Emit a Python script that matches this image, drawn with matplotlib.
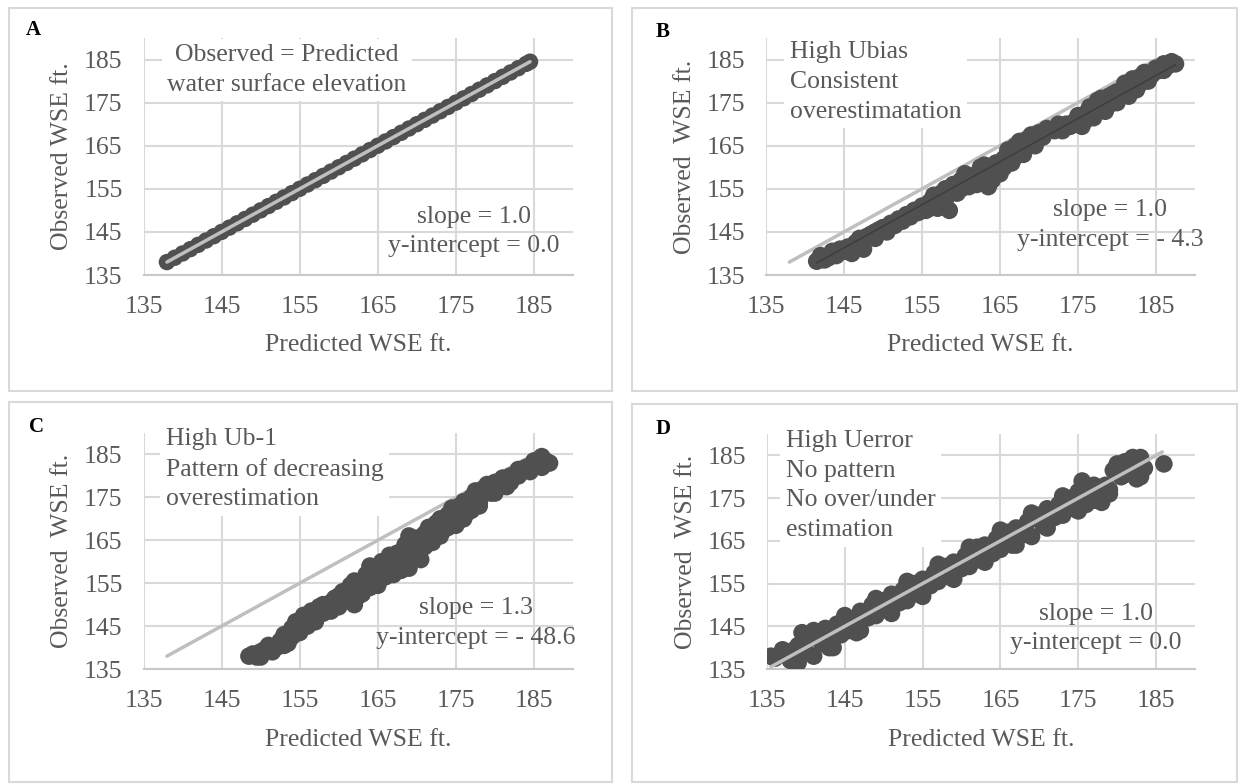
import matplotlib
matplotlib.use("Agg")
import matplotlib.pyplot as plt
from matplotlib.patches import Rectangle

plt.rcParams['font.family'] = ['Liberation Serif', 'DejaVu Serif']

W, H = 1241, 784

# Panel A: observed = predicted
pred_a = [138, 139, 140, 141, 142, 143, 144, 145, 146, 147, 148, 149, 150, 151, 152, 153,
          154, 155, 156, 157, 158, 159, 160, 161, 162, 163, 164, 165, 166, 167, 168, 169,
          170, 171, 172, 173, 174, 175, 176, 177, 178, 179, 180, 181, 182, 183, 184, 184.5]
obs_a = [138, 139, 140, 141, 142, 143, 144, 145, 146, 147, 148, 149, 150, 151, 152, 153,
         154, 155, 156, 157, 158, 159, 160, 161, 162, 163, 164, 165, 166, 167, 168, 169,
         170, 171, 172, 173, 174, 175, 176, 177, 178, 179, 180, 181, 182, 183, 184, 184.5]

# Panel B: high Ubias
pred_b = [141.5, 142.5, 143, 143.5, 144, 145, 145.5, 146, 146.5, 147, 147.5, 148, 148.5, 149,
          149.5, 150, 150.5, 151, 152, 152.5, 153, 154, 154.5, 155, 155.5, 156, 156.5, 157,
          157.5, 158, 158.5, 159, 159.5, 160, 160.5, 161, 161.5, 162, 162.5, 163, 163.5, 164,
          164.5, 165, 165.5, 166, 166.5, 167, 167.5, 168, 168.5, 169, 169.5, 170, 171, 172,
          173, 174, 174.5, 175, 175.5, 176, 176.5, 177, 177.5, 178, 178.5, 179, 179.5, 180,
          180.5, 181, 181.5, 182, 182.5, 183, 183.5, 184, 185, 185.5, 186, 186.5, 187, 187.5,
          142, 144.5, 147, 149, 151.5, 153.5, 156, 158, 160, 161, 163, 164, 165.5, 167,
          168, 170.5, 172.5, 173.5, 175, 176, 177, 179, 180, 181, 182, 183, 184.5, 186]
obs_b = [138.2, 138.5, 139, 140.5, 139.5, 140.5, 141.5, 140, 142.5, 143.5, 141, 144, 144.5, 143.5,
         145.5, 146, 145, 147, 148, 147.5, 149, 150, 149.5, 151, 150, 152, 153.5, 150.5,
         154, 155, 150, 156, 154, 157, 158.5, 157.5, 158, 156, 160, 160.5, 155.5, 159,
         161, 158.5, 162, 164, 161, 165, 166, 163, 166.5, 167.5, 165, 168, 169, 168.5,
         168.5, 169.5, 170.5, 172, 169.5, 172.5, 174, 171.5, 175.5, 176, 173, 176.5, 177, 175,
         177.5, 179.5, 176.5, 180.5, 178, 181, 182, 180, 183, 182.5, 184, 183.5, 184.5, 184,
         139.5, 141, 142, 145, 146.5, 148.5, 150.5, 152.5, 155, 155.5, 158, 157, 160, 162.5,
         165, 167, 170, 170, 171, 171, 173, 174.5, 177.5, 177.5, 179, 179.5, 181.5, 182.5]
trend_b_x = [141.5, 187.5]
trend_b_y = [137.8, 183.8]

# Panel C: high Ub-1
pred_c = [148.5, 149, 149.5, 150, 150.5, 151, 152, 152.5, 153, 153.5, 154, 154.5, 155, 155.5,
          156, 156.5, 157, 157.5, 158, 159, 159.5, 160, 160.5, 161, 161.5, 162, 162, 162.5,
          163, 163.5, 164, 164.5, 165, 165.5, 166, 166.5, 167, 167.5, 168, 168.5, 169, 169.5,
          170, 170.5, 171, 171.5, 172, 172.5, 173, 173.5, 174, 174.5, 175, 175.5, 176, 176.5,
          177, 177.5, 178, 178.5, 179, 179.5, 180, 181, 181.5, 182, 183, 184, 184.5, 185,
          185.5, 186, 186.5, 187,
          150, 151.5, 153, 154, 155, 156, 157, 158, 159, 160, 161, 162, 163, 164, 165, 166,
          167, 168, 169, 170, 171, 172, 173, 174, 175, 176, 177, 178, 180, 182, 183, 186]
obs_c = [138, 138.5, 137.8, 139, 139.5, 140.5, 140, 141.5, 143, 141, 144.5, 146, 145, 147.5,
         146.5, 148.5, 147.5, 149.5, 150, 150.5, 151.5, 152, 153, 151, 154.5, 155.5, 150, 152,
         155, 157, 159, 155.5, 158, 160, 156.5, 161.5, 159, 162, 158, 164, 166, 162,
         165.5, 160.5, 166.5, 168, 166, 169, 170, 167.5, 171, 172.5, 170.5, 173, 174, 171.5,
         175, 176.5, 174, 177, 178, 176, 178.5, 179.5, 177.5, 180, 181.5, 182, 181, 183.5,
         182.5, 184.5, 183.5, 183,
         137.8, 139, 140.5, 142.5, 143.5, 145, 146, 148, 148.5, 149.5, 153, 153.5, 152.5, 154,
         154.5, 159.5, 157, 161, 158.5, 163, 163.5, 164.5, 166, 168, 168.5, 170, 172, 173,
         176, 178.5, 180, 182]

# Panel D: high Uerror
pred_d = [135.5, 136, 137, 138, 138.5, 139, 139.5, 140, 140.5, 141, 141.5, 142, 142.5, 143,
          143.5, 144, 144.5, 145, 145.5, 146, 146.5, 147, 148, 148.5, 149, 150, 150.5, 151,
          152, 152.5, 153, 154, 154.5, 155, 156, 156.5, 157, 158, 158.5, 159, 160, 160.5,
          161, 162, 162.5, 163, 164, 164.5, 165, 166, 166.5, 167, 168, 168.5, 169, 170,
          170.5, 171, 172, 172.5, 173, 174, 174.5, 175, 175.5, 176, 176.5, 177, 178, 178.5,
          179, 179.5, 180, 180.5, 181, 182, 182.5, 183, 183.5, 186,
          137, 139, 141, 143, 145, 147, 149, 151, 153, 155, 157, 159, 161, 163, 165, 167,
          169, 171, 173, 175, 177, 178, 179, 181, 182, 183]
obs_d = [138, 137.5, 138.5, 137, 139.5, 140.5, 143.5, 139, 142.5, 138, 143.5, 141, 144.5, 142,
         140, 145.5, 143, 147, 144, 146.5, 143.5, 148.5, 147, 150, 147.5, 151, 149, 152.5,
         150.5, 153.5, 151, 155, 152.5, 156, 154.5, 157.5, 155.5, 159, 156.5, 160, 158.5, 161.5,
         159, 163.5, 160.5, 164, 162, 165.5, 163, 167, 164, 168, 166.5, 169.5, 166, 171,
         168.5, 172.5, 170.5, 173.5, 171, 175, 172.5, 176.5, 179, 173.5, 177.5, 174.5, 176.5, 178,
         177, 181.5, 183, 180, 183.5, 184.5, 179.5, 184.5, 182, 183,
         139.5, 136.5, 144, 140, 147.5, 144, 151.5, 148, 155.5, 152, 159.5, 156, 163.5, 160,
         167.5, 164, 171.5, 168, 175.5, 172, 178, 174, 176, 180.5, 181.5, 180]

ref_lines = {
    'A': [138, 184.5],
    'B': [138, 185],
    'C': [138, 184.5],
    'D': [135.5, 185.8],
}

ticks = [135, 145, 155, 165, 175, 185]

grid_c = '#d9d9d9'
text_c = '#595959'
pt_c = '#505050'
line_c = '#bfbfbf'
fs = 18.5
ls = 1.45


def fx(px):
    return px / W


def fy(py):
    return 1 - py / H


fig = plt.figure(figsize=(W / 100, H / 100), dpi=100)

# panel frames
frames = {'A': (9, 8, 612, 391), 'B': (632, 8, 1237, 391),
          'C': (9, 402, 612, 782), 'D': (632, 404, 1237, 782)}
for key, (l, t, r, b) in frames.items():
    fig.patches.append(Rectangle((fx(l), fy(b)), fx(r) - fx(l), fy(t) - fy(b),
                                 transform=fig.transFigure, fill=False,
                                 edgecolor=grid_c, linewidth=1.5))

axes_px = {'A': (143.5, 573, 38, 275), 'B': (766, 1195, 38, 275),
           'C': (143.5, 573, 433, 669), 'D': (767, 1195, 434, 669)}

data = {'A': (pred_a, obs_a), 'B': (pred_b, obs_b), 'C': (pred_c, obs_c), 'D': (pred_d, obs_d)}
line_on_top = {'A': True, 'B': False, 'C': False, 'D': True}
marker_s = {'A': 140, 'B': 160, 'C': 160, 'D': 160}
ylabels = {'A': 'Observed WSE ft.', 'B': 'Observed  WSE ft.',
           'C': 'Observed  WSE ft.', 'D': 'Observed  WSE ft.'}

axes = {}
for key, (l, r, t, b) in axes_px.items():
    ax = fig.add_axes([fx(l), fy(b), fx(r) - fx(l), fy(t) - fy(b)])
    axes[key] = ax
    x, y = data[key]
    lz = 4 if line_on_top[key] else 2
    ax.plot(ref_lines[key], ref_lines[key], color=line_c, linewidth=2.5, zorder=lz,
            solid_capstyle='round')
    ax.scatter(x, y, s=marker_s[key], color=pt_c, edgecolors='none', zorder=3)
    ax.set_xlim(135, 190)
    ax.set_ylim(135, 190)
    ax.set_xticks(ticks)
    ax.set_yticks(ticks)
    ax.grid(True, color=grid_c, linewidth=1.5)
    ax.set_axisbelow(True)
    for s in ['top', 'right', 'left']:
        ax.spines[s].set_visible(False)
    ax.spines['bottom'].set_color('#c8c8c8')
    ax.spines['bottom'].set_linewidth(1.5)
    ax.tick_params(length=0, labelsize=fs, labelcolor=text_c)
    ax.tick_params(axis='x', pad=15)
    ax.tick_params(axis='y', pad=15)
    ax.set_xlabel('Predicted WSE ft.', fontsize=fs, color=text_c, labelpad=12)
    ax.set_ylabel(ylabels[key], fontsize=fs, color=text_c, labelpad=8)

axes['B'].plot(trend_b_x, trend_b_y, color='#3c3c3c', linewidth=1, zorder=4)

# panel letters
for key, (px, py) in {'A': (33, 30), 'B': (663, 32), 'C': (37, 427), 'D': (663, 429)}.items():
    fig.text(fx(px), fy(py), key, fontsize=15, fontweight='bold', ha='center', va='center')

box = dict(facecolor='white', edgecolor='none', pad=4)

fig.text(fx(287), fy(70), 'Observed = Predicted\nwater surface elevation', fontsize=fs,
         color=text_c, ha='center', va='center', multialignment='center', linespacing=ls,
         bbox=box)
fig.text(fx(790), fy(82), 'High Ubias\nConsistent\noverestimatation', fontsize=fs,
         color=text_c, ha='left', va='center', linespacing=ls, bbox=box)
fig.text(fx(166), fy(469), 'High Ub-1\nPattern of decreasing\noverestimation', fontsize=fs,
         color=text_c, ha='left', va='center', linespacing=ls, bbox=box)
fig.text(fx(786), fy(485.5), 'High Uerror\nNo pattern\nNo over/under\nestimation', fontsize=fs,
         color=text_c, ha='left', va='center', linespacing=ls, bbox=box)

fig.text(fx(474), fy(231.5), 'slope = 1.0\ny-intercept = 0.0', fontsize=fs, color=text_c,
         ha='center', va='center', multialignment='center', linespacing=ls)
fig.text(fx(1110), fy(225), 'slope = 1.0\ny-intercept = - 4.3', fontsize=fs, color=text_c,
         ha='center', va='center', multialignment='center', linespacing=ls)
fig.text(fx(476), fy(623), 'slope = 1.3\ny-intercept = - 48.6', fontsize=fs, color=text_c,
         ha='center', va='center', multialignment='center', linespacing=ls)
fig.text(fx(1096), fy(628.5), 'slope = 1.0\ny-intercept = 0.0', fontsize=fs, color=text_c,
         ha='center', va='center', multialignment='center', linespacing=ls)

fig.savefig('out.png', dpi=100)
